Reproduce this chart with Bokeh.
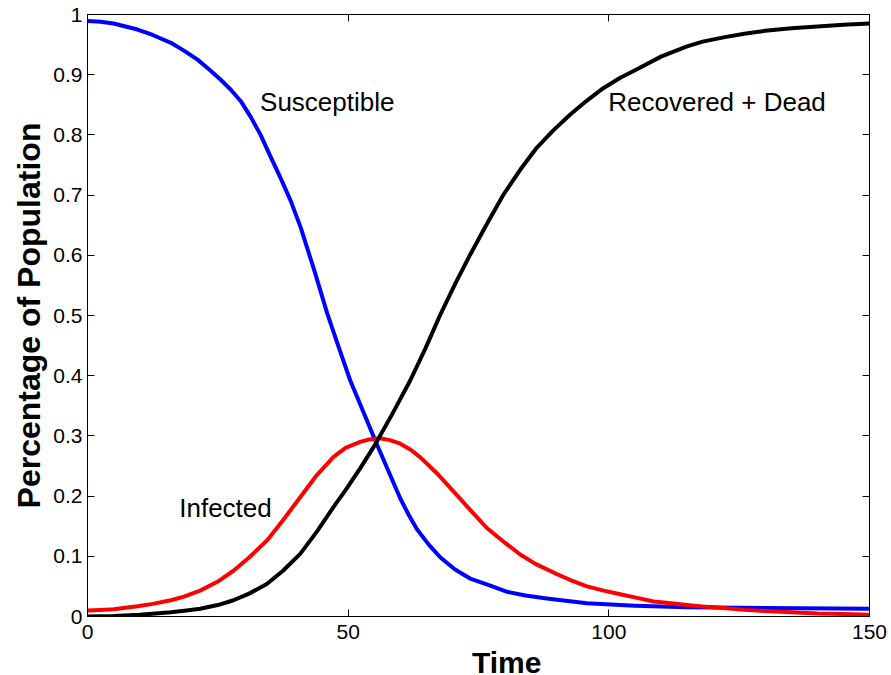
from bokeh.plotting import figure
from bokeh.layouts import column
from bokeh.models import LinearAxis, FixedTicker, CustomJSTickFormatter, Label, Range1d
from bokeh.core.properties import value
from bokeh.embed import file_html
from bokeh.resources import INLINE

# Susceptible
t_s = [0, 2.5, 5, 9.6, 12.5, 16, 18.5, 21.1, 23.3, 25.5, 27.5, 29.4, 31.3, 33.2, 35, 37, 39,
       40.9, 43.5, 46, 48.2, 50.4, 53, 55.5, 57.8, 60, 61.6, 63.2, 65.5, 67.7, 70.5, 73.4,
       77, 80.5, 84, 88.1, 95.8, 105, 115, 130, 150]
s_vals = [0.989, 0.988, 0.985, 0.975, 0.966, 0.953, 0.940, 0.925, 0.909, 0.892, 0.875, 0.856,
          0.830, 0.800, 0.766, 0.729, 0.690, 0.646, 0.575, 0.503, 0.447, 0.392, 0.338, 0.286,
          0.240, 0.196, 0.169, 0.145, 0.119, 0.098, 0.078, 0.063, 0.052, 0.041, 0.035, 0.030,
          0.022, 0.018, 0.0155, 0.014, 0.013]

# Infected
t_i = [0, 2.5, 5, 9.6, 12.5, 16, 18.5, 21.6, 25, 28, 31, 34.4, 37.5, 40.8, 44, 47.2, 49.5,
       52.3, 54, 56.1, 58, 60, 62, 63.9, 67, 70.2, 73.4, 76.6, 80, 83, 86, 89.4, 92.5, 95.8,
       99, 102.2, 105.4, 108.6, 112, 115, 118, 122, 126, 130, 135, 140, 145, 150]
i_vals = [0.010, 0.011, 0.012, 0.017, 0.021, 0.027, 0.033, 0.043, 0.058, 0.076, 0.098, 0.126,
          0.160, 0.198, 0.235, 0.265, 0.280, 0.290, 0.294, 0.296, 0.293, 0.287, 0.277, 0.264,
          0.238, 0.208, 0.177, 0.147, 0.123, 0.103, 0.087, 0.073, 0.061, 0.050, 0.043, 0.037,
          0.031, 0.025, 0.022, 0.019, 0.0165, 0.014, 0.011, 0.009, 0.007, 0.005, 0.004, 0.003]

# Recovered + Dead
t_r = [0, 5, 10, 13, 16, 19, 21.6, 25, 28, 31, 34.4, 37.5, 40.8, 44, 47.2, 49.5, 52.3, 55.2,
       58.5, 61.9, 64.8, 67.6, 70.5, 73.4, 76.6, 79.8, 83, 86.2, 89.4, 92.6, 95.8, 99, 102.2,
       105.4, 110, 115, 118, 122, 126, 130, 135, 140, 145, 150]
r_vals = [0.0, 0.001, 0.003, 0.005, 0.007, 0.010, 0.013, 0.019, 0.027, 0.038, 0.054, 0.076,
          0.104, 0.141, 0.182, 0.210, 0.246, 0.286, 0.337, 0.392, 0.445, 0.500, 0.552, 0.601,
          0.652, 0.701, 0.742, 0.779, 0.808, 0.834, 0.857, 0.878, 0.895, 0.909, 0.930, 0.947,
          0.955, 0.962, 0.968, 0.973, 0.977, 0.980, 0.983, 0.985]

x_ticks = [0, 50, 100, 150]
y_ticks = [0, 0.1, 0.2, 0.3, 0.4, 0.5, 0.6, 0.7, 0.8, 0.9, 1]

FONT = "Liberation Sans"

p = figure(width=891, height=650, x_range=Range1d(0, 150), y_range=Range1d(0, 1),
           output_backend="svg", toolbar_location=None,
           min_border_left=87, min_border_right=22, min_border_top=14, min_border_bottom=34)
p.xgrid.visible = False
p.ygrid.visible = False
p.outline_line_color = "black"
p.outline_line_alpha = 1
p.outline_line_width = 1
p.background_fill_color = "white"
p.border_fill_color = "white"

fmt = CustomJSTickFormatter(code="return String(Math.round(tick*10)/10);")
blank_fmt = CustomJSTickFormatter(code="return '';")

def style_axis(ax, ticks, show_labels):
    ax.ticker = FixedTicker(ticks=ticks)
    ax.minor_tick_line_color = None
    ax.major_tick_in = 7
    ax.major_tick_out = 0
    ax.major_tick_line_color = "black"
    ax.axis_line_color = "black"
    ax.major_label_text_font = FONT
    ax.major_label_text_color = "black"
    if show_labels:
        ax.formatter = fmt
        ax.major_label_text_font_size = "21px"
    else:
        ax.formatter = blank_fmt
        ax.major_label_text_font_size = "0px"
        ax.major_label_standoff = 0

style_axis(p.xaxis[0], x_ticks, True)
style_axis(p.yaxis[0], y_ticks, True)
p.xaxis[0].major_label_standoff = 8
p.yaxis[0].major_label_standoff = 5

top_ax = LinearAxis()
style_axis(top_ax, x_ticks, False)
p.add_layout(top_ax, "above")
right_ax = LinearAxis()
style_axis(right_ax, y_ticks, False)
p.add_layout(right_ax, "right")

p.yaxis[0].axis_label = "Percentage of Population"
p.yaxis[0].axis_label_text_font = FONT
p.yaxis[0].axis_label_text_font_style = "bold"
p.yaxis[0].axis_label_text_font_size = "32px"
p.yaxis[0].axis_label_text_color = "black"
p.yaxis[0].axis_label_standoff = 3

p.line(t_s, s_vals, line_color="#0000ff", line_width=4, line_join="round")
p.line(t_i, i_vals, line_color="#ff0000", line_width=4, line_join="round")
p.line(t_r, r_vals, line_color="black", line_width=4, line_join="round")

for (lx, ly, txt) in [(33.1, 0.855, "Susceptible"), (99.9, 0.855, "Recovered + Dead"),
                      (17.6, 0.181, "Infected")]:
    p.add_layout(Label(x=lx, y=ly, text=txt, text_font=FONT, text_font_size="26px",
                       text_color="black", text_baseline="middle", text_align="left"))

# strip below the axes holding the x-axis title (its frame lines up with the main frame)
p2 = figure(width=891, height=25, x_range=p.x_range, y_range=Range1d(0, 25),
            output_backend="svg", toolbar_location=None, x_axis_type=None, y_axis_type=None,
            min_border=0, outline_line_color=None)
p2.xgrid.visible = False
p2.ygrid.visible = False
p2.text(x=[80.4], y=[13], text=["Time"], text_font=value(FONT), text_font_size=value("30px"),
        text_font_style="bold", text_color="black", text_align="center", text_baseline="middle")

layout = column(p, p2, spacing=0)
open("out.html", "w").write(file_html(layout, INLINE))
